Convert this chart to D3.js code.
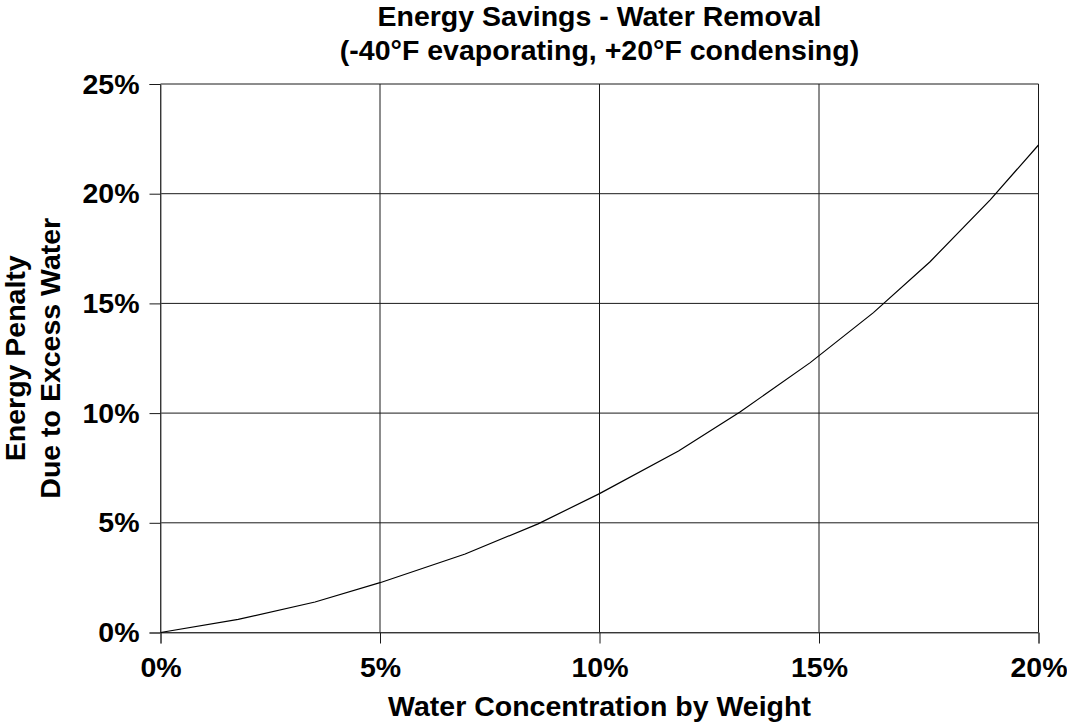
<!DOCTYPE html>
<html>
<head>
<meta charset="utf-8">
<script src="https://cdn.jsdelivr.net/npm/d3@7"></script>
<style>
  body { margin: 0; background: #fff; }
  svg text { font-family: "Liberation Sans", Arial, sans-serif; font-weight: bold; fill: #000; }
</style>
</head>
<body>
<script>
/* DATA */
const waterPct = [0, 1.77, 3.52, 5.0, 6.94, 8.6, 10.0, 11.8, 13.2, 14.8, 16.24, 17.53, 18.9, 20.0];
const penaltyPct = [0, 0.6, 1.39, 2.27, 3.58, 4.95, 6.33, 8.27, 10.05, 12.3, 14.58, 16.9, 19.72, 22.22];
const xTicks = [0, 5, 10, 15, 20];
const yTicks = [0, 5, 10, 15, 20, 25];
const titleLines = ["Energy Savings - Water Removal", "(-40°F evaporating, +20°F condensing)"];
const yTitleLines = ["Energy Penalty", "Due to Excess Water"];
const xTitle = "Water Concentration by Weight";

/* CONSTANTS */
const width = 1067;
const height = 727;
const margin = { top: 84, right: 28.5, bottom: 94.5, left: 160.5 };
const fontSize = 28.5;

const data = waterPct.map((d, i) => ({ x: d, y: penaltyPct[i] }));

const x = d3.scaleLinear()
    .domain([0, 20])
    .range([margin.left, width - margin.right]);

const y = d3.scaleLinear()
    .domain([0, 25])
    .range([height - margin.bottom, margin.top]);

const svg = d3.select("body").append("svg")
    .attr("width", width)
    .attr("height", height);

// gridlines
svg.append("g")
    .selectAll("line")
    .data(yTicks)
    .join("line")
    .attr("x1", margin.left)
    .attr("x2", width - margin.right)
    .attr("y1", d => y(d))
    .attr("y2", d => y(d))
    .attr("stroke", "#1a1a1a")
    .attr("stroke-width", 1);

svg.append("g")
    .selectAll("line")
    .data(xTicks)
    .join("line")
    .attr("x1", d => x(d))
    .attr("x2", d => x(d))
    .attr("y1", margin.top)
    .attr("y2", height - margin.bottom)
    .attr("stroke", "#1a1a1a")
    .attr("stroke-width", 1);

// axes
const xAxis = d3.axisBottom(x)
    .tickValues(xTicks)
    .tickSize(11)
    .tickPadding(13)
    .tickFormat(d => d + "%");

const yAxis = d3.axisLeft(y)
    .tickValues(yTicks)
    .tickSize(11)
    .tickPadding(10)
    .tickFormat(d => d + "%");

const gx = svg.append("g")
    .attr("transform", "translate(0," + (height - margin.bottom) + ")")
    .call(xAxis);

const gy = svg.append("g")
    .attr("transform", "translate(" + margin.left + ",0)")
    .call(yAxis);

[gx, gy].forEach(g => {
    g.select(".domain").attr("stroke", "#555");
    g.selectAll(".tick line").attr("stroke", "#1a1a1a");
    g.selectAll(".tick text")
        .attr("font-size", fontSize)
        .attr("font-family", "Liberation Sans, Arial, sans-serif")
        .attr("font-weight", "bold")
        .attr("fill", "#000");
});

// curve
const line = d3.line()
    .x(d => x(d.x))
    .y(d => y(d.y));

svg.append("path")
    .datum(data)
    .attr("fill", "none")
    .attr("stroke", "#000")
    .attr("stroke-width", 1.2)
    .attr("d", line);

// titles
const cx = (margin.left + width - margin.right) / 2;
svg.selectAll(".title")
    .data(titleLines)
    .join("text")
    .attr("class", "title")
    .attr("x", cx)
    .attr("y", (d, i) => 26 + i * 34)
    .attr("text-anchor", "middle")
    .attr("font-size", fontSize)
    .text(d => d);

svg.append("text")
    .attr("x", cx)
    .attr("y", 716)
    .attr("text-anchor", "middle")
    .attr("font-size", fontSize)
    .text(xTitle);

const cy = (margin.top + height - margin.bottom) / 2;
svg.selectAll(".ytitle")
    .data(yTitleLines)
    .join("text")
    .attr("class", "ytitle")
    .attr("transform", (d, i) => "translate(" + (25 + i * 35) + "," + cy + ") rotate(-90)")
    .attr("text-anchor", "middle")
    .attr("font-size", fontSize)
    .text(d => d);
</script>
</body>
</html>
